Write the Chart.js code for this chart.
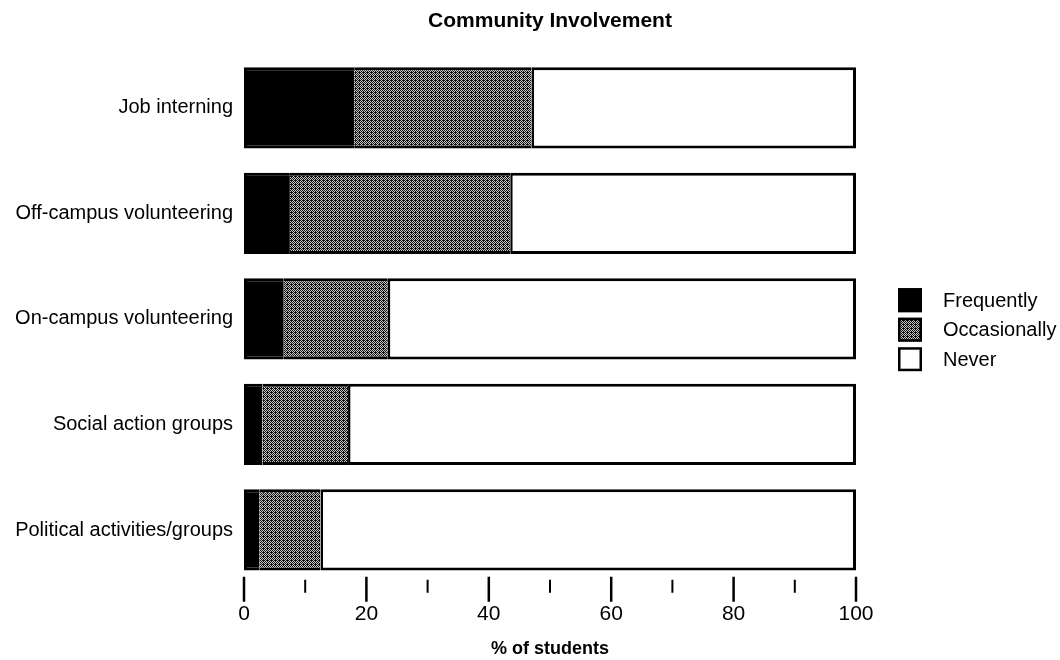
<!DOCTYPE html>
<html>
<head>
<meta charset="utf-8">
<script src="https://cdn.jsdelivr.net/npm/chart.js@4.4.1/dist/chart.umd.min.js"></script>
<style>
  html, body { margin: 0; padding: 0; background: #ffffff; }
  #wrap { width: 1060px; height: 660px; position: relative; }
</style>
</head>
<body>
<div id="wrap"><canvas id="c" width="1060" height="660"></canvas></div>
<script>
// ---- data ----
const categories = ["Job interning", "Off-campus volunteering", "On-campus volunteering", "Social action groups", "Political activities/groups"];
const seriesNames = ["Frequently", "Occasionally", "Never"];
const frequently = [18, 7.5, 6.5, 3, 2.5];
const occasionally = [29, 36, 17, 14, 10];
const never = [53, 56.5, 76.5, 83, 87.5];
const tickLabels = [0, 20, 40, 60, 80, 100];

// ---- dithered gray pattern ----
function makeDither() {
  const c = document.createElement('canvas');
  c.width = 4; c.height = 4;
  const g = c.getContext('2d');
  g.fillStyle = '#c4c4c4';
  g.fillRect(0, 0, 4, 4);
  g.fillStyle = '#111111';
  const pts = [[0,0],[2,0],[1,1],[3,1],[0,2],[2,2],[1,3],[3,3],[3,0]];
  pts.forEach(p => g.fillRect(p[0], p[1], 1, 1));
  return document.getElementById('c').getContext('2d').createPattern(c, 'repeat');
}
const gray = makeDither();
const fills = ['#000000', gray, '#ffffff'];

const FONT = "'Liberation Sans', Arial, Helvetica, sans-serif";

// custom tick marks (major/minor) drawn from the x scale
const tickPlugin = {
  id: 'tickMarks',
  afterDraw(chart) {
    const xs = chart.scales.x;
    const ctx = chart.ctx;
    const b = chart.chartArea.bottom;
    ctx.save();
    ctx.strokeStyle = '#000';
    xs.ticks.forEach(t => {
      const v = t.value;
      const px = xs.getPixelForValue(v);
      const major = v % 20 === 0;
      ctx.lineWidth = major ? 2.5 : 2;
      ctx.beginPath();
      if (major) { ctx.moveTo(px, b - 6); ctx.lineTo(px, b + 19); }
      else { ctx.moveTo(px, b - 3); ctx.lineTo(px, b + 10); }
      ctx.stroke();
    });
    ctx.restore();
  }
};

// legend drawn beside the chart area
const legendPlugin = {
  id: 'sideLegend',
  afterDraw(chart) {
    const ctx = chart.ctx;
    const ca = chart.chartArea;
    const x0 = ca.right + 42;
    const y0 = ca.top + 233;
    const step = 29.5;
    const size = 24;
    ctx.save();
    chart.data.datasets.forEach((ds, i) => {
      const y = y0 + i * step;
      ctx.fillStyle = ds.backgroundColor;
      ctx.fillRect(x0, y, size, size);
      ctx.lineWidth = 2.5;
      ctx.strokeStyle = '#000';
      ctx.strokeRect(x0 + 1.25, y + 1.25, size - 2.5, size - 2.5);
      ctx.fillStyle = '#000';
      ctx.font = "20px " + FONT;
      ctx.textBaseline = 'middle';
      ctx.textAlign = 'left';
      ctx.fillText(ds.label, x0 + 45, y + size / 2 + 1);
    });
    ctx.restore();
  }
};

const datasets = [
  { label: seriesNames[0], data: frequently, backgroundColor: fills[0], borderColor: '#000',
    borderWidth: {top: 3, bottom: 3, left: 3, right: 0}, borderSkipped: false },
  { label: seriesNames[1], data: occasionally, backgroundColor: fills[1], borderColor: '#000',
    borderWidth: {top: 3, bottom: 3, left: 0, right: 0}, borderSkipped: false },
  { label: seriesNames[2], data: never, backgroundColor: fills[2], borderColor: '#000',
    borderWidth: {top: 3, bottom: 3, left: 2.5, right: 3}, borderSkipped: false }
];

new Chart(document.getElementById('c'), {
  type: 'bar',
  data: { labels: categories, datasets: datasets },
  options: {
    indexAxis: 'y',
    responsive: false,
    animation: false,
    devicePixelRatio: 1,
    layout: { padding: { left: 0, right: 204, top: 0, bottom: 0 } },
    datasets: { bar: { barPercentage: 0.77, categoryPercentage: 1.0 } },
    plugins: {
      legend: { display: false },
      tooltip: { enabled: false },
      title: {
        display: true,
        text: 'Community Involvement',
        fullSize: false,
        color: '#000',
        font: { family: FONT, size: 21, weight: 'bold' },
        padding: { top: 8.4, bottom: 21.6 }
      }
    },
    scales: {
      x: {
        stacked: true,
        min: 0, max: 100,
        grid: { display: false, drawTicks: false },
        border: { display: false },
        afterFit(s) { s.height = 77.25; },
        ticks: {
          stepSize: 10,
          autoSkip: false,
          maxRotation: 0,
          padding: 19,
          color: '#000',
          font: { family: FONT, size: 21 },
          callback: v => tickLabels.includes(v) ? String(v) : ''
        },
        title: {
          display: true,
          text: '% of students',
          color: '#000',
          font: { family: FONT, size: 18, weight: 'bold' },
          padding: { top: 0, bottom: 0 }
        }
      },
      y: {
        stacked: true,
        grid: { display: false, drawTicks: false },
        border: { display: false },
        afterFit(s) { s.width = 244; },
        ticks: {
          padding: 11,
          color: '#000',
          font: { family: FONT, size: 20 }
        }
      }
    }
  },
  plugins: [tickPlugin, legendPlugin]
});
</script>
</body>
</html>
